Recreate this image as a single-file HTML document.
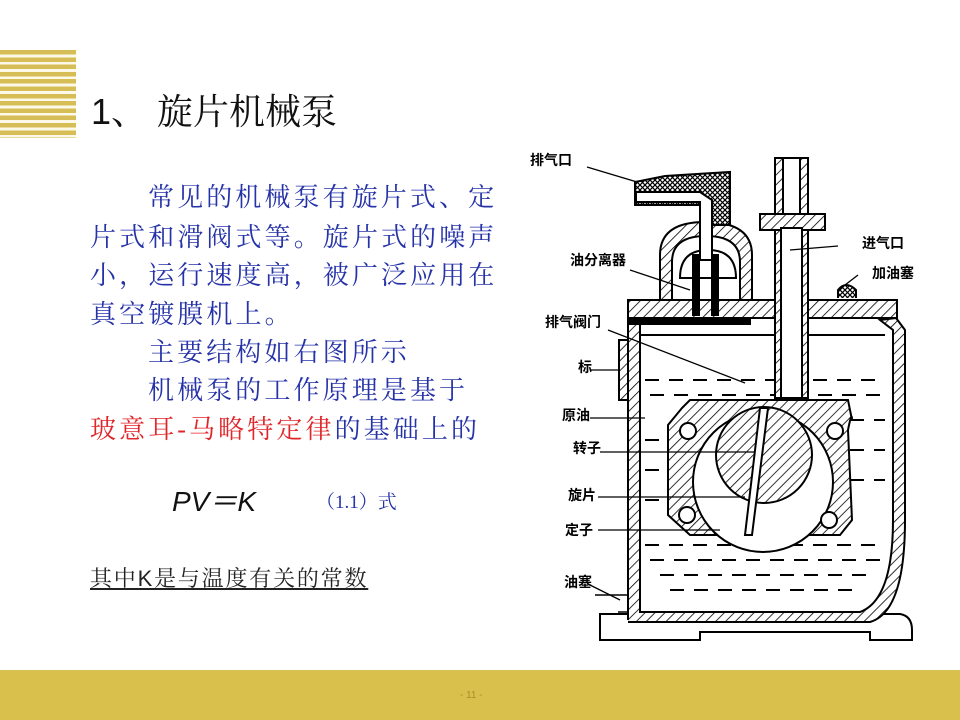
<!DOCTYPE html>
<html><head><meta charset="utf-8"><style>
html,body{margin:0;padding:0}
body{width:960px;height:720px;position:relative;overflow:hidden;background:#fff;font-family:"Liberation Sans","Noto Sans CJK SC",sans-serif}
.stripes{position:absolute;left:0;top:50px;width:76px;height:88px;background:repeating-linear-gradient(to bottom,#d7bd55 0,#d7bd55 4.5px,#fdf9e8 4.5px,#fdf9e8 7.3px)}
.title{position:absolute;left:91px;top:84px;font-size:36px;color:#111;font-family:"Liberation Sans","Noto Serif CJK SC",serif;white-space:nowrap}
.p{position:absolute;left:90px;font-family:"Liberation Serif","Noto Serif CJK SC",serif;font-size:26px;letter-spacing:3.1px;color:#2633a8;white-space:nowrap;line-height:30px}
.red{color:#e0262a}
.bar{position:absolute;left:0;top:670px;width:960px;height:50px;background:#d9bf4b}
.pg{position:absolute;left:460px;top:690px;font-size:10px;color:#a88f2a}
</style></head><body>
<div class="stripes"></div>
<div class="title">1、 旋片机械泵</div>
<div class="p" style="top:183px;left:148px">常见的机械泵有旋片式、定</div>
<div class="p" style="top:223px">片式和滑阀式等。旋片式的噪声</div>
<div class="p" style="top:261px">小，运行速度高，被广泛应用在</div>
<div class="p" style="top:300px">真空镀膜机上。</div>
<div class="p" style="top:338px;left:148px">主要结构如右图所示</div>
<div class="p" style="top:376px;left:148px">机械泵的工作原理是基于</div>
<div class="p" style="top:415px"><span class="red">玻意耳-马略特定律</span>的基础上的</div>
<div style="position:absolute;left:172px;top:480px;font-size:28px;font-style:italic;color:#111;font-family:'Liberation Sans','Noto Sans CJK SC',sans-serif;white-space:nowrap">PV＝K</div>
<div style="position:absolute;left:316px;top:487px;font-size:19px;color:#2633a8;font-family:'Liberation Serif','Noto Serif CJK SC',serif">（1.1）式</div>
<div style="position:absolute;left:90px;top:562px;font-size:22px;letter-spacing:1.8px;color:#222;text-decoration:underline;white-space:nowrap;font-family:'Liberation Sans','Noto Serif CJK SC',serif">其中K是与温度有关的常数</div>
<svg style="position:absolute;left:0;top:0" width="960" height="720" viewBox="0 0 960 720">
<defs>
<pattern id="h" width="7" height="7" patternUnits="userSpaceOnUse" patternTransform="rotate(45)"><rect width="7" height="7" fill="#fff"/><line x1="0" y1="0" x2="0" y2="7" stroke="#000" stroke-width="1.6"/></pattern>
<pattern id="x" width="5" height="5" patternUnits="userSpaceOnUse"><rect width="5" height="5" fill="#fff"/><path d="M0 0L5 5M5 0L0 5" stroke="#000" stroke-width="1.2"/></pattern>
</defs>
<g stroke="#000" stroke-width="2" fill="none">
<path d="M600 614 L900 614 Q912 616 912 630 L912 640 L870 640 L870 632 L700 632 L700 640 L600 640 Z" fill="#fff"/>
<path d="M628 620 L628 310 L640 310 L640 612 L860 612 Q893 600 893 520 L893 330 L880 320 L896 318 L905 330 L905 520 Q905 612 870 622 L628 622" fill="url(#h)"/>
<g stroke-width="2" stroke-dasharray="14 10">
<line x1="645" y1="380" x2="885" y2="380"/><line x1="650" y1="395" x2="885" y2="395"/>
<line x1="645" y1="545" x2="885" y2="545"/><line x1="650" y1="560" x2="880" y2="560"/>
<line x1="660" y1="575" x2="870" y2="575"/><line x1="670" y1="590" x2="860" y2="590"/>
<line x1="850" y1="420" x2="885" y2="420"/><line x1="850" y1="450" x2="885" y2="450"/><line x1="850" y1="480" x2="885" y2="480"/>
<line x1="645" y1="440" x2="670" y2="440"/><line x1="645" y1="470" x2="670" y2="470"/><line x1="645" y1="500" x2="670" y2="500"/>
</g>
<rect x="628" y="300" width="269" height="18" fill="url(#h)"/>
<rect x="630" y="318" width="120" height="6" fill="#000"/>
<line x1="640" y1="335" x2="885" y2="335"/>
<rect x="619" y="340" width="9" height="60" fill="url(#h)"/>
<path d="M682 408 L690 400 L848 400 L852 420 Q852 410 848 430 L852 520 L840 535 L690 535 L668 515 L668 425 Z" fill="url(#h)"/>
<circle cx="763" cy="482" r="70" fill="#fff"/>
<circle cx="764" cy="455" r="48" fill="url(#h)"/>
<circle cx="688" cy="431" r="8" fill="#fff"/><circle cx="835" cy="431" r="8" fill="#fff"/>
<circle cx="687" cy="515" r="8" fill="#fff"/><circle cx="829" cy="520" r="8" fill="#fff"/>
<path d="M760 408 L745 535 L752 535 L768 408 Z" fill="#fff"/>
<rect x="775" y="158" width="33" height="240" fill="url(#h)"/>
<rect x="783" y="158" width="17" height="240" fill="#fff"/>
<rect x="760" y="214" width="65" height="16" fill="url(#h)"/>
<rect x="781" y="228" width="21" height="170" fill="#fff"/>
<path d="M660 300 L660 255 Q660 222 705 222 Q752 222 752 255 L752 300 Z" fill="url(#h)"/>
<path d="M672 300 L672 262 Q672 236 706 236 Q740 236 740 262 L740 300 Z" fill="#fff"/>
<path d="M680 278 Q680 250 708 250 Q736 250 736 278 Z" fill="#fff"/>
<rect x="693" y="255" width="6" height="60" fill="#000"/><rect x="712" y="255" width="6" height="60" fill="#000"/>
<path d="M635 182 L665 176 L730 172 L730 225 L705 225 L705 205 L635 205 Z" fill="url(#x)"/>
<path d="M636 192 L700 192 L712 200 L712 260 L700 260 L700 202 L636 202 Z" fill="#fff"/>
<path d="M838 298 L838 290 Q846 280 856 290 L856 298" fill="url(#x)"/>
<path d="M595 595 L628 595 L628 612 L618 612" stroke-width="1.5"/>
</g>
<g stroke="#000" stroke-width="1.3">
<line x1="587" y1="167" x2="637" y2="182"/><line x1="838" y1="246" x2="790" y2="250"/>
<line x1="858" y1="275" x2="845" y2="285"/><line x1="630" y1="270" x2="690" y2="290"/>
<line x1="608" y1="330" x2="745" y2="383"/><line x1="590" y1="370" x2="620" y2="370"/>
<line x1="590" y1="418" x2="645" y2="418"/><line x1="600" y1="452" x2="755" y2="452"/>
<line x1="598" y1="497" x2="745" y2="497"/><line x1="598" y1="530" x2="720" y2="530"/>
<line x1="590" y1="585" x2="620" y2="600"/>
</g>
<g font-family="Liberation Sans,Noto Sans CJK SC,sans-serif" font-size="14" font-weight="bold" fill="#000">
<text x="530" y="165">排气口</text><text x="570" y="265">油分离器</text>
<text x="545" y="327">排气阀门</text><text x="578" y="372">标</text>
<text x="562" y="420">原油</text><text x="573" y="453">转子</text>
<text x="568" y="500">旋片</text><text x="565" y="535">定子</text>
<text x="564" y="587">油塞</text><text x="862" y="248">进气口</text>
<text x="872" y="278">加油塞</text>
</g>
</svg>
<div class="bar"></div>
<div class="pg">- 11 -</div>
</body></html>
